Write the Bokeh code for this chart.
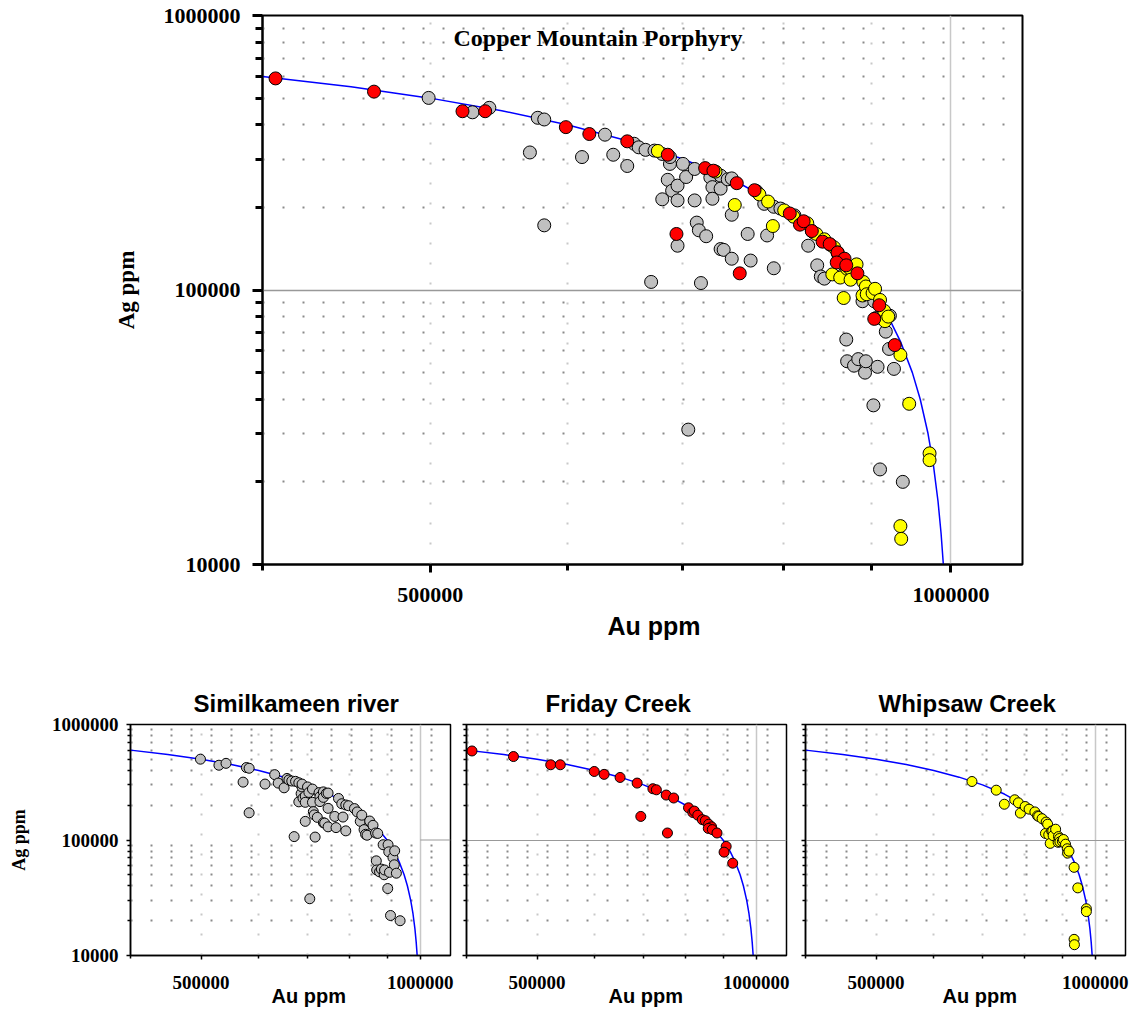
from bokeh.plotting import figure
from bokeh.models import FixedTicker, NumeralTickFormatter, Grid, Label, Title, CustomJSTickFormatter
from bokeh.layouts import column, row
from bokeh.embed import file_html
from bokeh.resources import INLINE

# ---------------- data (ppm) ----------------
TOTAL_PPM = 1_000_000  # Au + Ag = 100 %
curve_au = [400000, 450000, 500000, 550000, 600000, 650000, 700000, 750000, 800000,
            840000, 870000, 900000, 920000, 935000, 950000, 960000, 970000, 977000,
            983000, 987000, 990000]
curve_ag = [TOTAL_PPM - a for a in curve_au]

# Similkameen river (grey)
sim_au = [499000, 529000, 541000, 577000, 582000, 571000, 582000, 612000, 631000, 638000,
          650000, 656000, 660000, 666000, 671000, 674000, 681000, 681000, 686000, 688000,
          688000, 690000, 695000, 695000, 695000, 700000, 703000, 705000, 711000, 711000,
          713000, 715000, 717000, 722000, 726000, 728000, 728000, 736000, 736000, 736000,
          739000, 743000, 747000, 747000, 747000, 763000, 766000, 772000, 780000, 783000,
          790000, 790000, 797000, 812000, 819000, 827000, 831000, 837000, 841000, 845000,
          852000, 861000, 868000, 874000, 870000, 871000, 879000, 884000, 889000, 892000,
          893000, 902000, 903000, 905000, 907000, 910000, 917000, 922000, 921000, 927000,
          938000]
sim_ag = [501000, 444000, 461000, 424000, 418000, 317000, 172000, 305000, 368000, 311000,
          283000, 341000, 331000, 324000, 107000, 322000, 313000, 214000, 252000, 288000,
          305000, 230000, 240000, 212000, 145000, 288000, 258000, 31000, 276000, 212000,
          176000, 165000, 106000, 157000, 257000, 237000, 215000, 261000, 234000, 141000,
          140000, 253000, 188000, 255000, 130000, 160000, 128000, 229000, 206000, 158000,
          201000, 120000, 198000, 187000, 175000, 145000, 164000, 123000, 112000, 110000,
          146000, 134000, 115000, 114000, 66000, 55000, 53000, 56000, 91000, 50000,
          55000, 38000, 91000, 79000, 52500, 22200, 70500, 80600, 61000, 51600,
          20000]

# Friday Creek (red)
fri_au = [407000, 464000, 522000, 538000, 599000, 618000, 650000, 686000, 694000, 721000,
          729000, 752000, 755000, 770000, 807000, 818000, 822000, 831000, 843000, 851000,
          860000, 868000, 859000, 870000, 883000, 909000, 903000, 928000]
fri_ag = [590000, 528000, 448000, 448000, 392000, 370000, 348000, 311000, 160000, 278000,
          272000, 245000, 115000, 231000, 190000, 173000, 178000, 164000, 150000, 147000,
          137000, 130000, 126000, 123000, 115000, 88000, 78500, 63000]

# Whipsaw Creek (yellow)
whi_au = [677000, 731000, 750000, 775000, 784000, 789000, 801000, 811000, 826000, 833000,
          836000, 845000, 854000, 856000, 860000, 863000, 867000, 871000, 874000, 875000,
          882000, 889000, 890000, 893000, 894000, 901000, 904000, 910000, 915000, 916000,
          920000, 935000, 946000, 972000, 972000, 935000, 936000]
whi_ag = [321000, 270000, 204000, 223000, 210000, 171000, 195000, 185000, 175000, 162000,
          160000, 153000, 114000, 143000, 137000, 111000, 93500, 119500, 120000, 109000,
          124000, 95500, 107000, 103000, 96500, 97500, 101000, 92000, 84000, 77000,
          80000, 58000, 38500, 25400, 24000, 13800, 12400]

x_major = [500000, 1000000]
x_minor = [400000, 600000, 700000, 800000, 900000]
x_dotted = [500000, 600000, 700000, 800000, 900000]
x_solid = [1000000]
y_major = [10000, 100000, 1000000]
y_minor = [2e4, 3e4, 4e4, 5e4, 6e4, 7e4, 8e4, 9e4, 2e5, 3e5, 4e5, 5e5, 6e5, 7e5, 8e5, 9e5]
y_solid = [100000]
x_lim = (400000, 1100000)
y_lim = (10000, 1000000)

SERIF = "Liberation Serif"
SANS = "Liberation Sans"
GREY, RED, YELLOW = "#c0c0c0", "#ff0000", "#ffff00"


def base_fig(width, height, lb, rb, tb, bb):
    p = figure(width=width, height=height, x_axis_type="log", y_axis_type="log",
               x_range=x_lim, y_range=y_lim, output_backend="svg", toolbar_location=None,
               min_border_left=lb, min_border_right=rb, min_border_top=tb, min_border_bottom=bb)
    p.xgrid.visible = False
    p.ygrid.visible = False
    p.add_layout(Grid(dimension=0, ticker=FixedTicker(ticks=x_dotted), grid_line_color="#c8c8c8",
                      grid_line_dash="2 18", grid_line_width=2))
    p.add_layout(Grid(dimension=0, ticker=FixedTicker(ticks=x_solid), grid_line_color="#c8c8c8",
                      grid_line_width=1.5))
    p.add_layout(Grid(dimension=1, ticker=FixedTicker(ticks=y_minor), grid_line_color="#8a8a8a",
                      grid_line_dash="2 18", grid_line_width=2))
    p.xaxis.ticker = FixedTicker(ticks=x_major, minor_ticks=x_minor)
    p.yaxis.ticker = FixedTicker(ticks=y_major, minor_ticks=y_minor)
    p.xaxis.formatter = NumeralTickFormatter(format="0")
    p.yaxis.formatter = NumeralTickFormatter(format="0")
    p.outline_line_color = "black"
    p.background_fill_color = "white"
    p.border_fill_color = "white"
    for ax in (p.xaxis[0], p.yaxis[0]):
        ax.axis_line_color = "black"
        ax.major_tick_line_color = "black"
        ax.minor_tick_line_color = "black"
        ax.major_tick_in = 0
        ax.minor_tick_in = 0
        ax.major_label_text_font = SERIF
        ax.major_label_text_font_style = "bold"
        ax.major_label_text_color = "black"
        ax.axis_label_text_color = "black"
    return p


# ---------------- main chart ----------------
main = base_fig(1131, 665, 262, 109, 15, 101)
main.add_layout(Grid(dimension=1, ticker=FixedTicker(ticks=y_solid), grid_line_color="#999999",
                     grid_line_width=1.5))
main.outline_line_width = 2
for ax in (main.xaxis[0], main.yaxis[0]):
    ax.axis_line_width = 2
    ax.major_tick_line_width = 3
    ax.minor_tick_line_width = 3
    ax.major_label_text_font_size = "22px"
main.xaxis.major_tick_out = 8
main.xaxis.minor_tick_out = 6
main.yaxis.major_tick_out = 10
main.yaxis.minor_tick_out = 7
main.xaxis.major_label_standoff = 15
main.yaxis.major_label_standoff = 12
main.yaxis.axis_label = "Ag ppm"
main.yaxis.axis_label_text_font = SERIF
main.yaxis.axis_label_text_font_style = "bold"
main.yaxis.axis_label_text_font_size = "23px"
main.yaxis.axis_label_standoff = 22
main.add_layout(Title(text="Au ppm", align="left", offset=345, vertical_align="top",
                      text_font=SANS, text_font_style="bold", text_font_size="25px",
                      text_color="black", standoff=14), "below")

main.line(curve_au, curve_ag, line_color="#0000ff", line_width=1.5)
main.scatter(sim_au, sim_ag, size=13, fill_color=GREY, line_color="black", line_width=1)
main.scatter(whi_au, whi_ag, size=13, fill_color=YELLOW, line_color="black", line_width=1)
main.scatter(fri_au, fri_ag, size=13, fill_color=RED, line_color="black", line_width=1)
main.add_layout(Label(x=191, y=527, x_units="screen", y_units="screen",
                      text="Copper Mountain Porphyry", text_font=SERIF, text_font_style="bold",
                      text_font_size="24px", text_baseline="alphabetic", text_color="black"))


# ---------------- small panels ----------------
def panel(title, title_offset, label_offset, au, ag, color, width, lb, rb, show_y_labels,
          hline_from=None):
    p = base_fig(width, 345, lb, rb, 59, 55)
    if hline_from is None:
        p.add_layout(Grid(dimension=1, ticker=FixedTicker(ticks=y_solid),
                          grid_line_color="#999999", grid_line_width=1.2))
    else:
        p.segment(x0=[hline_from], y0=y_solid, x1=[x_lim[1]], y1=y_solid,
                  line_color="#999999", line_width=1.2)
    p.outline_line_width = 1.5
    for ax in (p.xaxis[0], p.yaxis[0]):
        ax.axis_line_width = 1.5
        ax.major_tick_line_width = 1.5
        ax.minor_tick_line_width = 1.5
        ax.major_tick_out = 4
        ax.minor_tick_out = 3
    p.xaxis.major_label_text_font_size = "19px"
    p.xaxis.major_label_standoff = 16
    p.yaxis.major_label_text_font_size = "19px"
    p.yaxis.major_label_standoff = 8
    if show_y_labels:
        p.yaxis.axis_label = "Ag ppm"
        p.yaxis.axis_label_text_font = SERIF
        p.yaxis.axis_label_text_font_style = "bold"
        p.yaxis.axis_label_text_font_size = "18px"
        p.yaxis.axis_label_standoff = 20
    else:
        p.yaxis.formatter = CustomJSTickFormatter(code="return ''")
        p.yaxis.major_label_standoff = 0
    p.title.text = title
    p.title.text_font = SANS
    p.title.text_font_style = "bold"
    p.title.text_font_size = "24px"
    p.title.text_color = "black"
    p.title.align = "left"
    p.title.offset = title_offset
    p.title.standoff = 15
    p.add_layout(Title(text="Au ppm", align="left", offset=label_offset, vertical_align="top",
                       text_font=SANS, text_font_style="bold", text_font_size="20px",
                       text_color="black", standoff=-13), "below")
    p.line(curve_au, curve_ag, line_color="#0000ff", line_width=1.5)
    p.scatter(au, ag, size=10, fill_color=color, line_color="black", line_width=1)
    return p


p1 = panel("Similkameen river", 63, 141, sim_au, sim_ag, GREY, 456, 130, 6, True,
           hline_from=1000000)
p2 = panel("Friday Creek", 79, 142, fri_au, fri_ag, RED, 336, 10, 6, False)
p3 = panel("Whipsaw Creek", 73, 137, whi_au, whi_ag, YELLOW, 339, 13, 6, False)

layout = column(main, row(p1, p2, p3, spacing=0), spacing=0)
open("out.html", "w").write(file_html(layout, INLINE))
